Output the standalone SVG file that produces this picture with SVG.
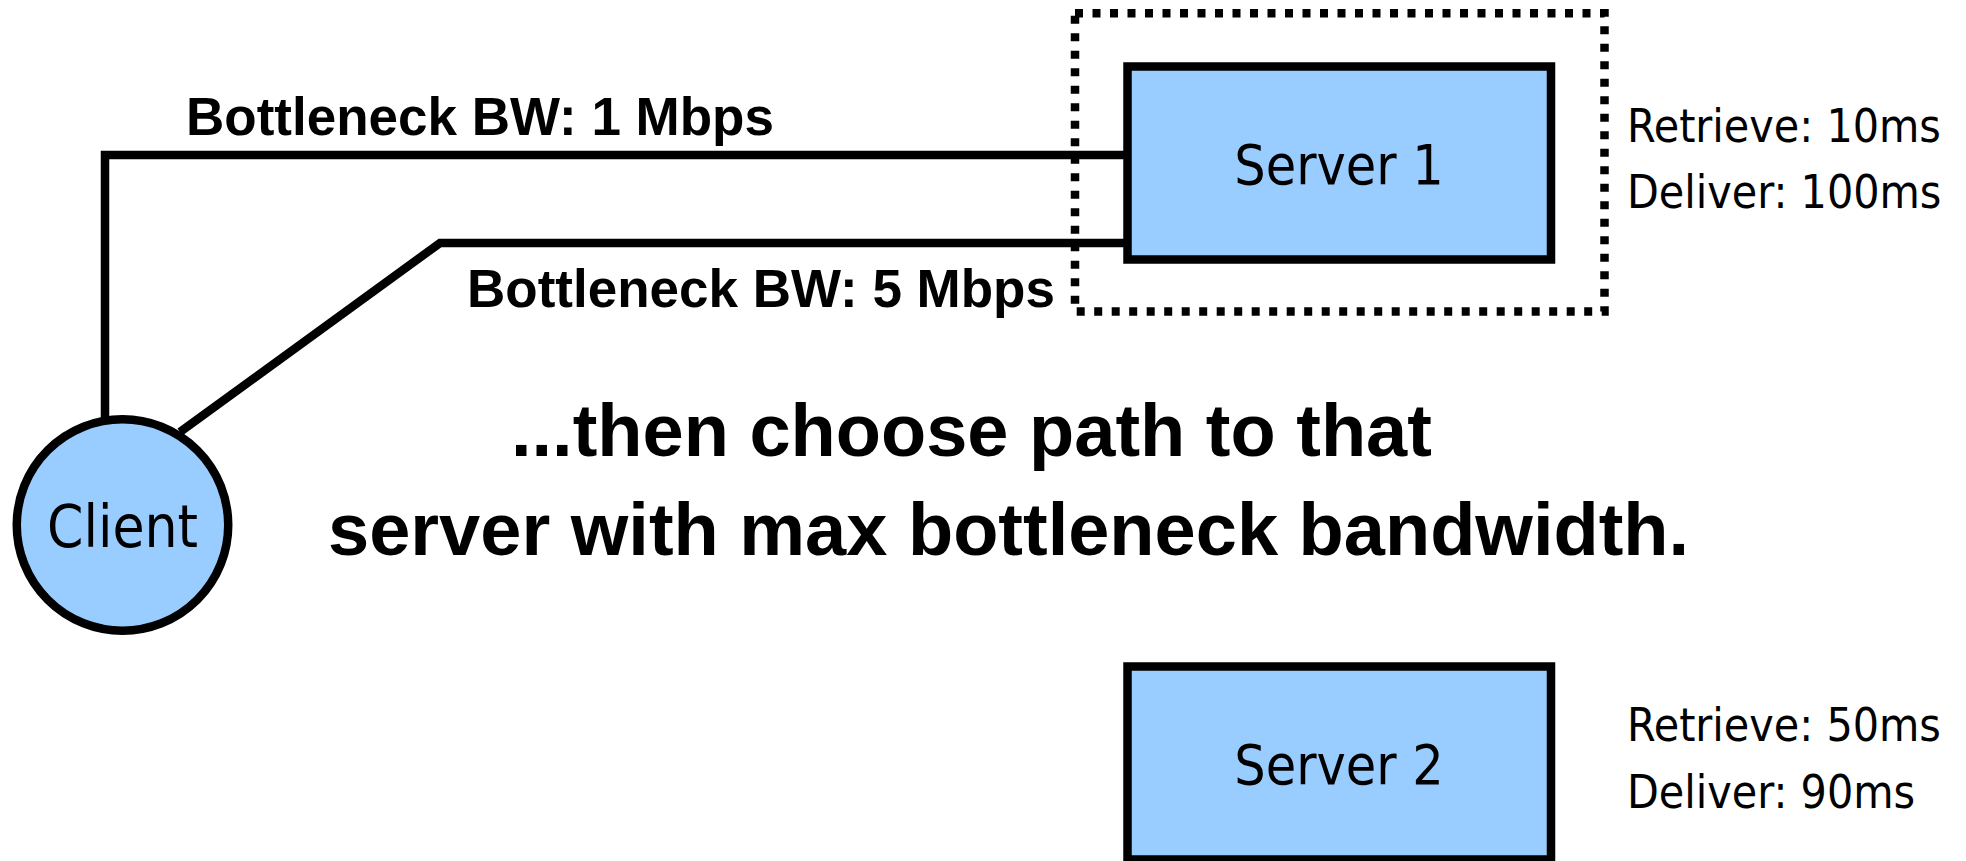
<svg xmlns="http://www.w3.org/2000/svg" width="1966" height="861" viewBox="0 0 1966 861">
  <style>
    .bg { fill: #ffffff; }
    .link { fill: none; stroke: #000000; stroke-width: 8.5; stroke-linejoin: miter; stroke-linecap: butt; }
    .node { fill: #99ccff; stroke: #000000; stroke-width: 8.5; }
    .sel { fill: none; stroke: #000000; stroke-width: 8.5; stroke-dasharray: 8 9.5; }
    .nlabel { font-family: "DejaVu Sans Condensed", "DejaVu Sans", sans-serif; font-stretch: condensed; font-size: 55px; fill: #000000; text-anchor: middle; }
    .clabel { font-size: 58px; }
    .stat { font-family: "DejaVu Sans Condensed", "DejaVu Sans", sans-serif; font-stretch: condensed; font-size: 46px; fill: #000000; }
    .bw { font-family: "Liberation Sans", Arial, sans-serif; font-weight: bold; font-size: 53px; fill: #000000; }
    .caption { font-family: "Liberation Sans", Arial, sans-serif; font-weight: bold; font-size: 74px; fill: #000000; }
  </style>
  <rect class="bg" x="0" y="0" width="1966" height="861"/>

  <g id="connectors">
    <polyline class="link" points="105,421 105,155 1128,155"/>
    <polyline class="link" points="180,432 440,243 1128,243"/>
  </g>

  <g id="selection-box">
    <rect class="sel" x="1075" y="13.3" width="529.5" height="298.2"/>
  </g>

  <g id="client">
    <circle class="node" cx="122.5" cy="525" r="105.75"/>
    <text class="nlabel clabel" x="122.5" y="547">Client</text>
  </g>

  <g id="server1">
    <rect class="node" x="1127.5" y="66.5" width="423.5" height="193"/>
    <text class="nlabel" x="1339" y="184">Server 1</text>
  </g>

  <g id="server1-stats">
    <text class="stat" x="1627" y="142">Retrieve: 10ms</text>
    <text class="stat" x="1627" y="208">Deliver: 100ms</text>
  </g>

  <g id="server2">
    <rect class="node" x="1127.5" y="666.5" width="423.5" height="193"/>
    <text class="nlabel" x="1339" y="784">Server 2</text>
  </g>

  <g id="server2-stats">
    <text class="stat" x="1627" y="741">Retrieve: 50ms</text>
    <text class="stat" x="1627" y="808">Deliver: 90ms</text>
  </g>

  <g id="link-labels">
    <text class="bw" x="186" y="135">Bottleneck BW: 1 Mbps</text>
    <text class="bw" x="467" y="307">Bottleneck BW: 5 Mbps</text>
  </g>

  <g id="caption">
    <text class="caption" x="511" y="456">...then choose path to that</text>
    <text class="caption" x="328" y="555">server with max bottleneck bandwidth.</text>
  </g>
</svg>
